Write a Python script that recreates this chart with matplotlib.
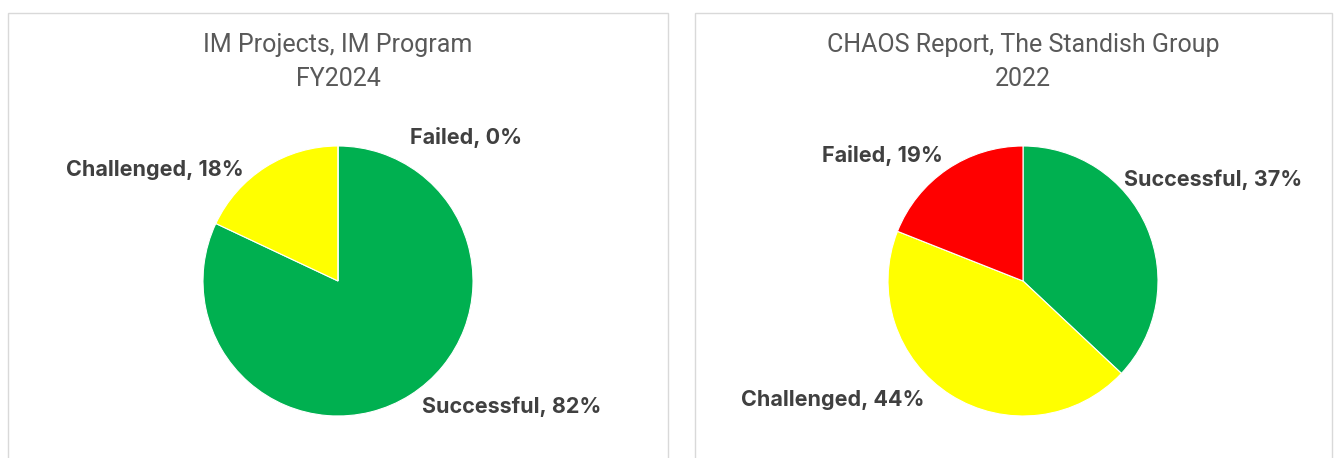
"""Project outcome pies: IM Program FY2024 vs CHAOS Report 2022"""
import matplotlib.pyplot as plt
from matplotlib.patches import Rectangle

# data
categories = ['Successful', 'Challenged', 'Failed']
im_values = [82, 18, 0]
chaos_values = [37, 44, 19]
colors = ['#00B050', '#FFFF00', '#FF0000']

im_title = ['IM Projects, IM Program', 'FY2024']
chaos_title = ['CHAOS Report, The Standish Group', '2022']

# label offsets (in pie radius units) to mimic Excel "best fit" placement
im_label_pos = [(1.29, -0.93), (-1.36, 0.82), (0.95, 1.06)]
chaos_label_pos = [(1.41, 0.75), (-1.41, -0.88), (-1.04, 0.93)]

W, H = 1343, 458
fig = plt.figure(figsize=(W / 100, H / 100), dpi=100)

# panel frames (pixel coords from top-left)
for x0, x1 in [(8, 668), (695, 1332)]:
    fig.add_artist(Rectangle((x0 / W, -0.1), (x1 - x0) / W, (H - 13) / H + 0.1,
                             transform=fig.transFigure, facecolor='none',
                             edgecolor='#D9D9D9', linewidth=1.0))

R = 135  # pie radius in px
half = 2 * R


def draw_pie(cx, cy, values, label_pos, title):
    ax = fig.add_axes([(cx - half) / W, (H - cy - half) / H, 2 * half / W, 2 * half / H])
    ax.pie(values, colors=colors, startangle=90, counterclock=False, radius=1,
           wedgeprops=dict(edgecolor='white', linewidth=0.8))
    ax.set_xlim(-2, 2)
    ax.set_ylim(-2, 2)
    ax.set_aspect('equal')
    ax.axis('off')
    for cat, v, (lx, ly) in zip(categories, values, label_pos):
        ax.text(lx, ly, f'{cat}, {v}%', ha='center', va='center', fontsize=15.5,
                fontweight='bold', color='#404040', family='Inter', clip_on=False)
    for line, ty in zip(title, [45, 79]):
        fig.text(cx / W, 1 - ty / H, line, ha='center', va='center', fontsize=18,
                 color='#595959', family='Roboto')


draw_pie(338, 281, im_values, im_label_pos, im_title)
draw_pie(1023, 281, chaos_values, chaos_label_pos, chaos_title)

fig.savefig('out.png', dpi=100)
